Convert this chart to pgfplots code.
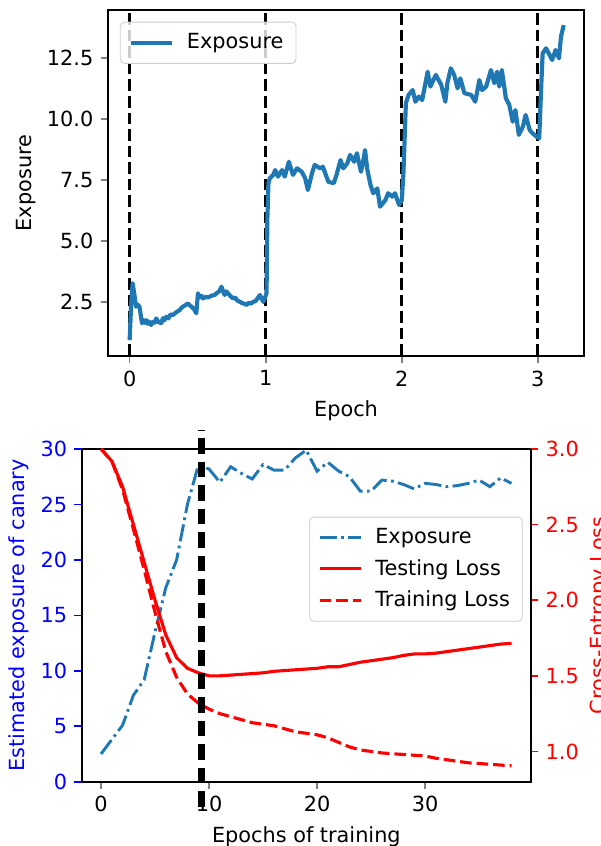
\documentclass[border=0pt]{standalone}
\usepackage{fontspec}
\setmainfont{DejaVu Sans}
\usepackage{pgfplots}
\pgfplotsset{compat=1.18}
\definecolor{tabblue}{HTML}{1F77B4}
\definecolor{pureblue}{HTML}{0000FF}
\definecolor{purered}{HTML}{FF0000}

\pgfplotstableread{
t v
0.000 0.95
0.011 2.40
0.022 3.28
0.034 2.85
0.047 2.32
0.060 2.40
0.072 2.32
0.091 1.64
0.100 1.78
0.110 1.66
0.121 1.77
0.132 1.62
0.140 1.72
0.158 1.57
0.170 1.70
0.185 1.66
0.195 1.84
0.210 1.70
0.232 1.64
0.245 1.85
0.255 1.76
0.269 1.91
0.285 1.84
0.300 2.00
0.318 1.98
0.335 2.06
0.350 2.12
0.367 2.18
0.385 2.30
0.400 2.35
0.415 2.40
0.428 2.46
0.445 2.36
0.460 2.30
0.475 2.20
0.490 2.05
0.502 2.87
0.515 2.70
0.530 2.76
0.539 2.66
0.560 2.72
0.575 2.70
0.588 2.73
0.605 2.78
0.625 2.80
0.645 2.90
0.660 2.96
0.675 3.14
0.690 2.90
0.699 2.80
0.710 2.95
0.723 2.87
0.740 2.76
0.760 2.66
0.775 2.70
0.790 2.58
0.810 2.52
0.830 2.46
0.845 2.44
0.859 2.39
0.875 2.48
0.890 2.44
0.908 2.52
0.925 2.55
0.940 2.66
0.957 2.80
0.970 2.65
0.982 2.52
0.995 2.70
1.006 2.87
1.012 5.90
1.020 7.38
1.030 7.58
1.055 7.72
1.070 7.92
1.090 7.65
1.120 7.92
1.140 7.65
1.170 8.26
1.200 7.72
1.230 7.99
1.265 7.85
1.290 7.58
1.310 7.10
1.340 7.79
1.360 8.13
1.400 7.99
1.420 8.06
1.460 7.44
1.500 7.38
1.520 7.72
1.550 8.33
1.570 7.99
1.600 8.20
1.620 8.54
1.650 8.26
1.670 8.61
1.700 7.85
1.720 8.40
1.730 8.74
1.745 7.99
1.770 7.31
1.790 6.97
1.820 7.17
1.840 6.42
1.880 6.69
1.900 6.97
1.930 6.83
1.950 6.97
1.980 6.49
2.000 6.69
2.012 7.80
2.030 10.66
2.050 11.00
2.080 11.20
2.100 10.72
2.125 10.93
2.150 10.79
2.190 11.95
2.210 11.34
2.250 11.82
2.290 11.41
2.320 10.72
2.335 11.48
2.360 12.09
2.385 11.82
2.410 11.27
2.430 11.68
2.460 11.07
2.510 11.00
2.540 10.72
2.570 11.61
2.590 11.20
2.620 11.34
2.655 12.02
2.680 11.48
2.700 11.95
2.716 11.34
2.735 12.02
2.765 10.86
2.790 10.59
2.815 9.90
2.835 10.38
2.860 9.36
2.890 9.70
2.910 10.18
2.940 9.56
2.960 9.43
2.990 9.29
3.010 9.22
3.022 11.00
3.035 12.70
3.060 12.91
3.080 12.70
3.105 12.43
3.130 12.84
3.155 12.50
3.170 13.39
3.190 13.86
}\toptable

\pgfplotstableread{
e exp test train
0 2.5 3.00 3.00
1 3.8 2.92 2.92
2 5.1 2.75 2.73
3 7.8 2.50 2.47
4 9.2 2.25 2.20
5 13.5 2.00 1.92
6 17.5 1.77 1.66
7 20.0 1.62 1.49
8 25.0 1.55 1.38
9 28.5 1.52 1.32
10 28.2 1.50 1.28
11 27.0 1.50 1.25
12 28.4 1.505 1.23
13 27.8 1.51 1.21
14 27.3 1.515 1.19
15 28.6 1.52 1.18
16 28.1 1.53 1.17
17 28.1 1.535 1.15
18 29.2 1.54 1.13
19 29.9 1.545 1.12
20 28.0 1.55 1.11
21 28.8 1.56 1.09
22 28.0 1.56 1.06
23 27.5 1.575 1.03
24 26.2 1.59 1.01
25 26.2 1.60 1.00
26 27.2 1.61 0.99
27 27.1 1.62 0.985
28 26.8 1.635 0.98
29 26.4 1.645 0.975
30 26.9 1.645 0.97
31 26.8 1.65 0.955
32 26.6 1.66 0.945
33 26.7 1.67 0.935
34 26.9 1.68 0.925
35 27.2 1.69 0.92
36 26.6 1.70 0.915
37 27.4 1.71 0.91
38 26.9 1.715 0.905
}\bottable

\begin{document}
\begin{tikzpicture}
\pgfplotsset{
  every axis/.append style={
    scale only axis,
    font=\fontsize{10}{12}\selectfont,
    /pgf/number format/assume math mode=true,
    tick align=outside,
    major tick length=3.5pt,
    axis line style={line width=0.8pt},
    every tick/.append style={line width=0.8pt},
    legend cell align=left,
    ylabel shift=-1.5pt,
    legend image code/.code={\draw[#1] (0pt,0pt) -- (20pt,0pt);},
  },
  mylegend/.style={
    draw=black!20, fill=white, fill opacity=0.8, text opacity=1,
    rounded corners=2pt, font=\fontsize{10}{12}\selectfont,
    inner xsep=4pt, inner ysep=3.5pt, row sep=2pt,
    /tikz/every odd column/.append style={column sep=4pt},
  },
}
% ---------- top ----------
\begin{axis}[
  at={(51.84pt,235.2pt)}, anchor=south west,
  width=228.48pt, height=166.08pt,
  xmin=-0.159, xmax=3.339, ymin=0.3, ymax=14.48,
  xtick={0,1,2,3}, ytick={2.5,5,7.5,10,12.5},
  xtick pos=bottom, ytick pos=left,
  yticklabel style={/pgf/number format/.cd, fixed, fixed zerofill, precision=1},
  xlabel={Epoch}, ylabel={Exposure},
  legend style={mylegend, at={(0.025,0.966)}, anchor=north west},
]
\addplot[black, line width=1.5pt, dash pattern=on 5.55pt off 2.4pt, forget plot] coordinates {(0,0.3) (0,14.48)};
\addplot[black, line width=1.5pt, dash pattern=on 5.55pt off 2.4pt, forget plot] coordinates {(1,0.3) (1,14.48)};
\addplot[black, line width=1.5pt, dash pattern=on 5.55pt off 2.4pt, forget plot] coordinates {(2,0.3) (2,14.48)};
\addplot[black, line width=1.5pt, dash pattern=on 5.55pt off 2.4pt, forget plot] coordinates {(3,0.3) (3,14.48)};
\addplot[tabblue, line width=2pt, line join=round] table[x=t, y=v] {\toptable};
\addlegendentry{Exposure}
\end{axis}
% ---------- bottom left ----------
\begin{axis}[
  at={(39.2pt,30.86pt)}, anchor=south west,
  width=215.7pt, height=159.7pt,
  xmin=-1.79, xmax=39.81, ymin=0, ymax=30,
  xtick={0,10,20,30}, ytick={0,5,10,15,20,25,30},
  xtick pos=bottom, ytick pos=left,
  xlabel={Epochs of training}, ylabel={Estimated exposure of canary},
  ylabel style={color=pureblue}, yticklabel style={color=pureblue},
  ytick style={color=pureblue},
]
\addplot[tabblue, line width=1.4pt, dash pattern=on 8.3pt off 2.1pt on 1.3pt off 2.1pt] table[x=e, y=exp] {\bottable};
\end{axis}
% ---------- bottom right ----------
\begin{axis}[
  at={(39.2pt,30.86pt)}, anchor=south west,
  width=215.7pt, height=159.7pt,
  xmin=-1.79, xmax=39.81, ymin=0.8, ymax=3.0,
  axis y line*=right, axis x line=none,
  ytick={1,1.5,2,2.5,3},
  yticklabel style={color=purered, /pgf/number format/.cd, fixed, fixed zerofill, precision=1},
  ytick style={color=purered},
  ylabel={Cross-Entropy Loss}, ylabel style={color=purered},
  clip=false,
  legend style={mylegend, at={(0.9815,0.7965)}, anchor=north east},
]
\addlegendimage{tabblue, line width=1.4pt, dash pattern=on 8.3pt off 2.1pt on 1.3pt off 2.1pt}
\addlegendentry{Exposure}
\addplot[purered, line width=1.5pt] table[x=e, y=test] {\bottable};
\addlegendentry{Testing Loss}
\addplot[purered, line width=1.5pt, dash pattern=on 5.55pt off 2.4pt] table[x=e, y=train] {\bottable};
\addlegendentry{Training Loss}
\addplot[black, line width=3pt, dash pattern=on 7.5pt off 3.8pt, forget plot] coordinates {(9.3,0.634) (9.3,3.128)};
\end{axis}
\pgfresetboundingbox
\useasboundingbox (0,0) rectangle (288.48pt,406.08pt);
\end{tikzpicture}
\end{document}
